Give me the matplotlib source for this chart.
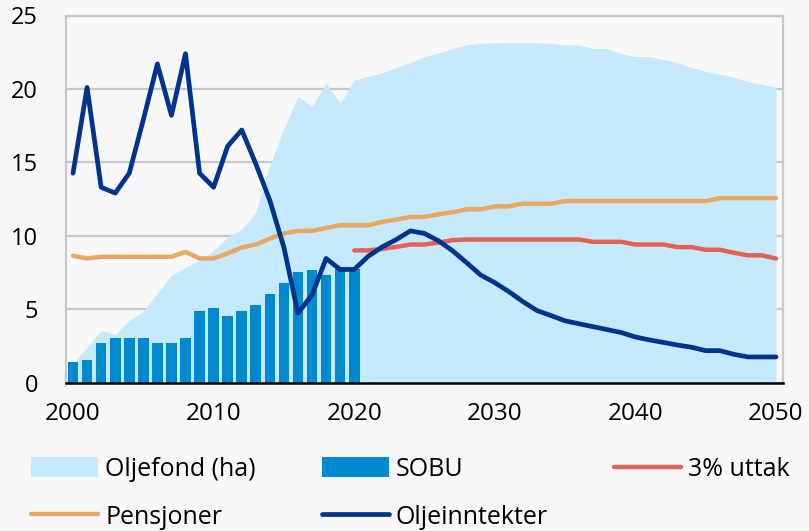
import matplotlib
matplotlib.use('Agg')
import matplotlib.pyplot as plt
from matplotlib.ticker import FixedLocator

plt.rcParams['font.family'] = ['Open Sans', 'DejaVu Sans']

years = list(range(2000, 2051))

# Oljefond (ha), 2000-2050
oljefond = [1.3, 2.4, 3.55, 3.25, 4.25, 4.85, 6.1, 7.3, 7.85, 8.3,
            9.0, 9.9, 10.45, 11.6, 14.8, 17.3, 19.5, 18.8, 20.4, 19.0,
            20.6, 20.85, 21.1, 21.45, 21.8, 22.2, 22.45, 22.75, 23.0, 23.1,
            23.15, 23.15, 23.15, 23.15, 23.1, 23.0, 23.0, 22.75, 22.75, 22.4,
            22.2, 22.2, 22.0, 21.8, 21.45, 21.2, 21.0, 20.8, 20.5, 20.3,
            20.1]

# SOBU, 2000-2020
sobu_years = list(range(2000, 2021))
sobu = [1.38, 1.56, 2.69, 3.05, 3.05, 3.05, 2.69, 2.69, 3.05, 4.9,
        5.1, 4.54, 4.9, 5.29, 6.03, 6.76, 7.5, 7.68, 7.32, 7.7,
        7.7]

# 3% uttak, 2020-2050
uttak_years = list(range(2020, 2051))
uttak = [9.0, 9.0, 9.1, 9.24, 9.4, 9.4, 9.53, 9.7, 9.74, 9.74,
         9.74, 9.74, 9.74, 9.74, 9.74, 9.74, 9.74, 9.58, 9.58, 9.58,
         9.4, 9.4, 9.4, 9.22, 9.22, 9.04, 9.04, 8.84, 8.66, 8.66,
         8.45]

# Pensjoner, 2000-2050
pensjoner = [8.63, 8.45, 8.56, 8.56, 8.56, 8.56, 8.56, 8.56, 8.9, 8.45,
             8.45, 8.79, 9.2, 9.4, 9.8, 10.15, 10.33, 10.33, 10.53, 10.71,
             10.71, 10.71, 10.94, 11.1, 11.28, 11.28, 11.46, 11.6, 11.8, 11.8,
             12.0, 12.0, 12.18, 12.18, 12.18, 12.36, 12.36, 12.36, 12.36, 12.36,
             12.36, 12.36, 12.36, 12.36, 12.36, 12.36, 12.56, 12.56, 12.56, 12.56,
             12.56]

# Oljeinntekter, 2000-2050
oljeinntekter = [14.26, 20.1, 13.3, 12.9, 14.26, 17.9, 21.7, 18.2, 22.4, 14.26,
                 13.3, 16.1, 17.2, 14.9, 12.4, 9.2, 4.72, 5.97, 8.45, 7.7,
                 7.7, 8.6, 9.24, 9.74, 10.33, 10.15, 9.65, 8.97, 8.16, 7.32,
                 6.8, 6.19, 5.51, 4.9, 4.56, 4.2, 4.0, 3.8, 3.6, 3.4,
                 3.1, 2.9, 2.73, 2.55, 2.4, 2.17, 2.17, 1.92, 1.74, 1.74,
                 1.74]

bg = '#F8F8F8'
fig = plt.figure(figsize=(8.09, 5.31), dpi=100, facecolor=bg)
ax = fig.add_axes([66 / 809, (531 - 382.5) / 531, (783 - 66) / 809, 367 / 531])
ax.set_facecolor(bg)

area = ax.fill_between(years, 0, oljefond, color='#C5EAFD', lw=0, zorder=1,
                       label='Oljefond (ha)')
bars = ax.bar(sobu_years, sobu, width=0.76, color='#0089CF', zorder=2, label='SOBU')
l_uttak, = ax.plot(uttak_years, uttak, color='#E65F55', lw=3.2, zorder=3,
                   solid_capstyle='round', label='3% uttak')
l_pens, = ax.plot(years, pensjoner, color='#E8A860', lw=3.2, zorder=3,
                  solid_capstyle='round', label='Pensjoner')
l_olje, = ax.plot(years, oljeinntekter, color='#00338D', lw=3.4, zorder=4,
                  solid_capstyle='round', label='Oljeinntekter')

ax.set_xlim(1999.5, 2050.5)
ax.set_ylim(0, 25)
ax.set_yticks([0, 5, 10, 15, 20, 25])
ax.yaxis.grid(True, color='#C8C8C8', lw=1.6, zorder=0)
ax.set_axisbelow(True)
ax.tick_params(axis='y', length=0, pad=20, labelsize=17)

ax.set_xticks(range(2000, 2051, 10))
ax.xaxis.set_minor_locator(FixedLocator([1999.5 + 5 * k for k in range(11)]))
ax.tick_params(axis='x', which='major', length=0, pad=14, labelsize=17.5)
ax.tick_params(axis='x', which='minor', direction='in', length=7.5, width=1.5,
               color='black')

for s in ['left', 'right', 'top']:
    ax.spines[s].set_color('#C8C8C8')
    ax.spines[s].set_linewidth(1.6)
ax.spines['bottom'].set_color('black')
ax.spines['bottom'].set_linewidth(1.8)
ax.spines['bottom'].set_zorder(5)

handles = [area, l_pens, bars, l_olje, l_uttak]
labels = [h.get_label() for h in handles]
fig.legend(handles, labels, ncol=3, loc='upper left',
           bbox_to_anchor=(31 / 809, 1 - 457 / 531), frameon=False,
           fontsize=18, handlelength=2.68, handleheight=0.85,
           handletextpad=0.28, columnspacing=2.64, labelspacing=0.9,
           borderpad=0, borderaxespad=0)

plt.savefig('out.png', dpi=100, facecolor=bg)
